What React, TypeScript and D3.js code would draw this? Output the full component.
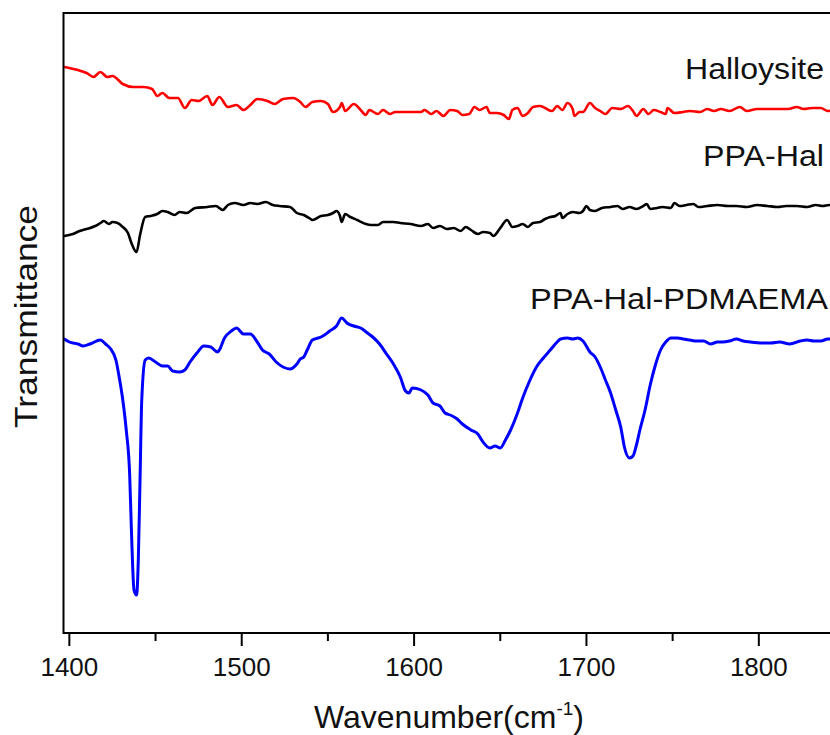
import React from "react";
import * as d3 from "d3";

// FTIR spectra, wavenumber (cm^-1) vs. transmittance (a.u., curves offset for clarity)
const halloysite: [number, number][] = [
  [1397, 56.6], [1400, 56.5], [1405, 56.3], [1410, 56.0], [1414, 55.6], [1418, 56.1], [1422, 55.6],
  [1425, 55.7], [1431, 54.9], [1437, 54.6], [1443, 54.6], [1448, 54.4], [1451, 53.7], [1454, 54.0],
  [1458, 53.5], [1463, 53.5], [1467, 52.5], [1471, 53.3], [1475, 53.2], [1480, 53.7], [1483, 52.8],
  [1487, 53.6], [1492, 52.6], [1497, 52.8], [1501, 52.3], [1505, 52.8], [1509, 53.4], [1515, 53.2],
  [1519, 52.9], [1524, 53.4], [1530, 53.5], [1534, 53.1], [1537, 52.6], [1541, 53.1], [1546, 53.2],
  [1550, 52.9], [1553, 52.1], [1557, 52.6], [1558, 53.0], [1560, 52.2], [1565, 52.9], [1569, 52.3],
  [1572, 51.8], [1574, 52.3], [1579, 51.9], [1582, 52.3], [1586, 51.9], [1589, 52.1], [1598, 52.1],
  [1604, 52.1], [1606, 52.3], [1610, 51.9], [1613, 52.2], [1617, 51.7], [1621, 52.3], [1625, 52.2],
  [1628, 51.8], [1632, 51.9], [1635, 52.6], [1638, 52.3], [1642, 52.6], [1644, 52.0], [1648, 52.0],
  [1652, 51.8], [1655, 51.4], [1657, 52.3], [1660, 52.5], [1663, 51.7], [1666, 52.0], [1669, 52.6],
  [1673, 52.7], [1676, 52.5], [1680, 52.2], [1683, 52.7], [1686, 52.3], [1689, 53.0], [1692, 52.4],
  [1693, 51.7], [1696, 52.1], [1698, 52.1], [1702, 53.0], [1705, 52.5], [1708, 52.2], [1711, 51.9],
  [1715, 52.5], [1720, 52.4], [1724, 52.7], [1727, 52.2], [1729, 51.7], [1733, 52.4], [1736, 51.9],
  [1739, 52.3], [1743, 52.1], [1746, 51.9], [1747, 52.5], [1751, 52.0], [1756, 52.1], [1760, 52.2],
  [1766, 52.1], [1770, 52.4], [1774, 52.2], [1778, 52.4], [1783, 52.2], [1789, 52.6], [1793, 52.2],
  [1799, 52.4], [1805, 52.4], [1811, 52.4], [1817, 52.4], [1822, 52.6], [1826, 52.4], [1831, 52.5],
  [1836, 52.5], [1840, 52.2], [1845, 52.4],
];

const ppaHal: [number, number][] = [
  [1397, 39.7], [1402, 39.9], [1406, 40.2], [1410, 40.4], [1415, 40.7], [1418, 41.0], [1420, 41.2],
  [1423, 40.9], [1425, 41.1], [1428, 41.0], [1431, 40.6], [1434, 40.0], [1436, 39.0], [1439, 38.1],
  [1441, 39.8], [1444, 41.6], [1447, 41.7], [1451, 41.9], [1454, 42.2], [1457, 42.1], [1461, 41.8],
  [1464, 42.1], [1468, 42.0], [1473, 42.5], [1480, 42.6], [1485, 42.7], [1489, 42.3], [1492, 42.8],
  [1496, 43.0], [1501, 42.8], [1505, 43.0], [1509, 42.9], [1514, 43.1], [1518, 42.8], [1522, 42.7],
  [1528, 42.6], [1532, 42.0], [1536, 41.8], [1540, 41.4], [1541, 41.3], [1546, 41.7], [1550, 41.8],
  [1553, 42.0], [1555, 42.2], [1557, 41.7], [1558, 41.1], [1560, 41.9], [1563, 41.6], [1567, 41.3],
  [1572, 40.9], [1575, 40.8], [1579, 40.8], [1582, 41.1], [1588, 41.1], [1592, 41.0], [1598, 40.9],
  [1604, 40.7], [1608, 40.9], [1611, 40.5], [1615, 40.7], [1619, 40.4], [1623, 40.5], [1627, 40.2],
  [1630, 40.6], [1633, 40.3], [1637, 39.9], [1640, 40.1], [1644, 40.0], [1646, 39.7], [1650, 40.5],
  [1654, 41.3], [1657, 40.6], [1660, 40.7], [1663, 40.9], [1666, 40.6], [1669, 41.0], [1673, 41.1],
  [1676, 41.4], [1679, 41.6], [1682, 41.7], [1685, 42.0], [1686, 41.5], [1689, 41.9], [1692, 42.1],
  [1696, 42.0], [1698, 42.2], [1700, 42.7], [1702, 42.3], [1705, 42.2], [1709, 42.5], [1714, 42.6],
  [1718, 42.7], [1721, 42.4], [1725, 42.6], [1729, 42.4], [1733, 42.7], [1735, 42.9], [1737, 42.4],
  [1741, 42.5], [1744, 42.6], [1749, 42.5], [1751, 43.0], [1754, 42.7], [1758, 42.8], [1762, 42.9],
  [1765, 42.6], [1770, 42.7], [1776, 42.8], [1782, 42.7], [1787, 42.7], [1793, 42.6], [1799, 42.8],
  [1805, 42.7], [1811, 42.6], [1816, 42.7], [1822, 42.7], [1828, 42.6], [1833, 42.8], [1837, 42.7],
  [1841, 42.8], [1845, 42.8],
];

const ppaHalPdmaema: [number, number][] = [
  [1397, 29.4], [1400, 29.1], [1405, 28.9], [1408, 28.7], [1412, 28.9], [1418, 29.3], [1421, 28.9],
  [1424, 28.4], [1427, 27.3], [1429, 25.5], [1431, 23.3], [1433, 20.3], [1435, 15.8], [1436, 10.3],
  [1437.5, 4.3], [1439, 3.8], [1440, 7.3], [1441, 15.3], [1442, 23.3], [1444, 27.3], [1446, 27.5],
  [1450, 27.1], [1454, 26.7], [1457, 26.7], [1460, 26.2], [1464, 26.1], [1467, 26.3], [1470, 27.1],
  [1474, 28.0], [1478, 28.7], [1482, 28.6], [1486, 28.1], [1487, 28.3], [1490, 29.5], [1494, 30.2],
  [1497, 30.5], [1501, 29.9], [1505, 29.9], [1509, 29.1], [1512, 28.3], [1516, 27.9], [1520, 27.1],
  [1524, 26.6], [1528, 26.4], [1532, 26.9], [1534, 27.4], [1536, 27.6], [1538, 28.3], [1541, 29.3],
  [1546, 29.6], [1548, 29.8], [1551, 30.2], [1555, 30.7], [1558, 31.5], [1561, 31.0], [1565, 30.7],
  [1569, 30.5], [1573, 30.0], [1576, 29.6], [1580, 28.9], [1584, 27.9], [1588, 26.9], [1592, 25.6],
  [1595, 24.2], [1597, 24.0], [1599, 24.5], [1604, 24.3], [1608, 23.8], [1611, 23.0], [1615, 22.7],
  [1618, 22.0], [1621, 21.8], [1625, 21.4], [1628, 20.9], [1633, 20.3], [1637, 19.9], [1640, 19.1],
  [1644, 18.5], [1647, 18.7], [1650, 18.5], [1653, 19.3], [1656, 20.3], [1660, 22.0], [1663, 23.5],
  [1667, 25.2], [1671, 26.6], [1675, 27.5], [1679, 28.3], [1683, 29.1], [1685, 29.4], [1689, 29.5],
  [1692, 29.4], [1695, 29.5], [1698, 29.2], [1702, 28.1], [1705, 27.6], [1708, 26.6], [1711, 25.3],
  [1714, 24.0], [1717, 22.3], [1720, 20.5], [1722, 18.6], [1725, 17.5], [1727, 17.7], [1729, 18.8],
  [1731, 20.3], [1734, 22.3], [1737, 24.8], [1740, 26.8], [1743, 28.3], [1746, 29.1], [1749, 29.5],
  [1753, 29.5], [1756, 29.4], [1760, 29.3], [1764, 29.2], [1768, 29.2], [1772, 28.9], [1776, 29.1],
  [1779, 29.1], [1783, 29.2], [1787, 29.4], [1791, 29.2], [1795, 29.1], [1801, 29.0], [1807, 29.0],
  [1812, 29.1], [1818, 28.9], [1824, 29.2], [1828, 29.3], [1832, 29.2], [1836, 29.2], [1840, 29.4],
  [1845, 29.4],
];

const seriesNames = ["Halloysite", "PPA-Hal", "PPA-Hal-PDMAEMA"];
const seriesColors = ["#ff0000", "#000000", "#0000ff"];
const majorTicks = [1400, 1500, 1600, 1700, 1800];
const minorTicks = [1450, 1550, 1650, 1750, 1850];

const W = 830;
const H = 735;
const FONT = "Arial, 'Liberation Sans', Helvetica, sans-serif";

export default function App() {
  const left = 63.5;
  const top = 13;
  const bottom = 633;
  const right = 845;
  const x = d3.scaleLinear().domain([1396.6, 1850]).range([left, right]);
  const y = d3.scaleLinear().domain([0, 62]).range([bottom, top]);
  const line = d3
    .line<[number, number]>()
    .x((d) => x(d[0]))
    .y((d) => y(d[1]))
    .curve(d3.curveMonotoneX);
  const data = [halloysite, ppaHal, ppaHalPdmaema];
  const labelPos = [
    { x: 824, y: 78.5, len: 139 },
    { x: 824, y: 165.5, len: 121 },
    { x: 828, y: 309, len: 298 },
  ];

  return (
    <svg
      width={W}
      height={H}
      style={{ position: "absolute", left: 0, top: 0, background: "#fff" }}
      fontFamily={FONT}
    >
      <defs>
        <clipPath id="plotArea">
          <rect x={left} y={top} width={right - left} height={bottom - top} />
        </clipPath>
      </defs>
      <g clipPath="url(#plotArea)">
        {data.map((d, i) => (
          <path
            key={seriesNames[i]}
            d={line(d) || ""}
            fill="none"
            stroke={seriesColors[i]}
            strokeWidth={i === 2 ? 3 : 2.6}
            strokeLinejoin="round"
            strokeLinecap="round"
          />
        ))}
      </g>
      {/* axis frame */}
      <rect
        x={left}
        y={top}
        width={right - left}
        height={bottom - top}
        fill="none"
        stroke="#000"
        strokeWidth={2}
      />
      {majorTicks.map((t) => (
        <g key={t}>
          <line x1={x(t)} x2={x(t)} y1={bottom} y2={bottom + 13} stroke="#000" strokeWidth={2} />
          <text x={x(t)} y={676} textAnchor="middle" fontSize={26} fill="#111">
            {t}
          </text>
        </g>
      ))}
      {minorTicks.map((t) => (
        <line key={t} x1={x(t)} x2={x(t)} y1={bottom} y2={bottom + 8} stroke="#000" strokeWidth={2} />
      ))}
      {seriesNames.map((n, i) => (
        <text
          key={n}
          x={labelPos[i].x}
          y={labelPos[i].y}
          textAnchor="end"
          fontSize={29}
          fill="#111"
          textLength={labelPos[i].len}
          lengthAdjust="spacingAndGlyphs"
        >
          {n}
        </text>
      ))}
      <text
        transform="translate(37,316.5) rotate(-90)"
        textAnchor="middle"
        fontSize={32}
        fill="#111"
        textLength={223}
        lengthAdjust="spacingAndGlyphs"
      >
        Transmittance
      </text>
      <text x={449} y={728} textAnchor="middle" fontSize={32} fill="#111">
        Wavenumber(cm
        <tspan fontSize={19} dy={-13}>-1</tspan>
        <tspan dy={13}>)</tspan>
      </text>
    </svg>
  );
}
